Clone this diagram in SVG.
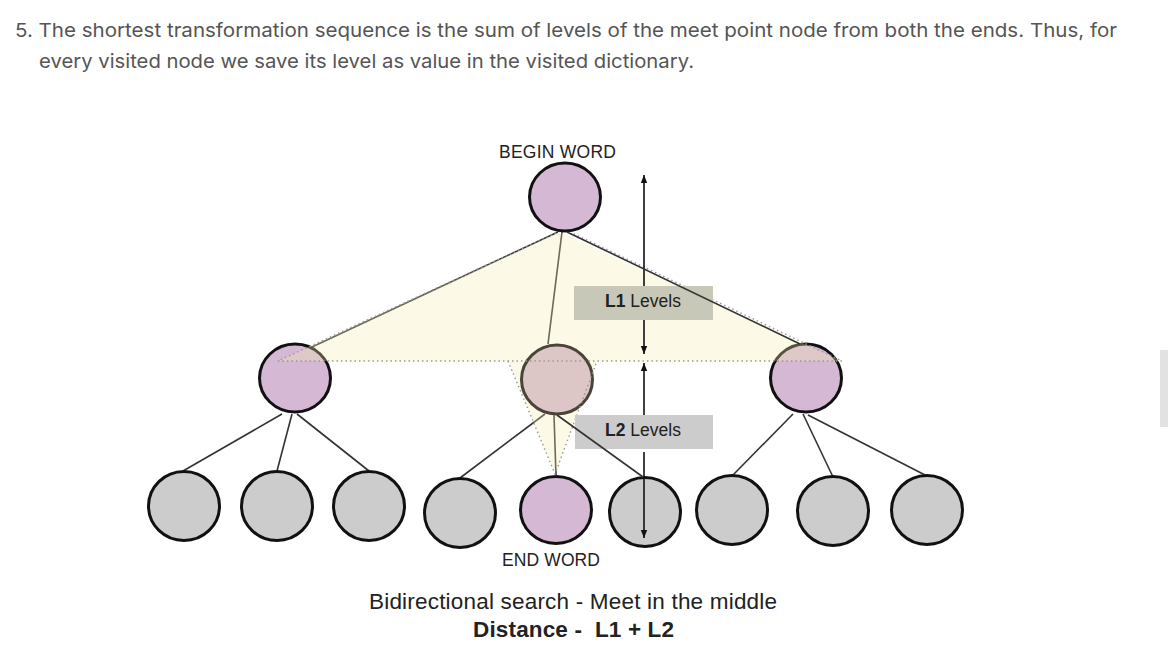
<svg xmlns="http://www.w3.org/2000/svg" width="1168" height="667" viewBox="0 0 1168 667">
<style>
.hd{font-family:Inter,"Liberation Sans",sans-serif;font-size:19px;fill:#555}
.lb{font-family:"Liberation Sans",Arial,sans-serif;fill:#222}
.e{stroke:#333;stroke-width:1.6;fill:none}
.n{stroke:#111;stroke-width:3}
.p{fill:#d4b8d4}
.g{fill:#cccccc}
.dot{stroke:#999;stroke-width:1.4;stroke-dasharray:1.5 3;fill:none}
.tri{fill:rgb(245,238,172);fill-opacity:0.3}
.ar{stroke:#111;stroke-width:1.6;fill:none}
</style>
<defs>
<marker id="ah" viewBox="0 0 10 10" refX="10" refY="5" markerWidth="9" markerHeight="8" markerUnits="userSpaceOnUse" orient="auto"><path d="M0,1 L10,5 L0,9 z" fill="#111"/></marker>
</defs>
<rect width="1168" height="667" fill="#fff"/>
<text class="hd" x="15" y="37" textLength="1102" lengthAdjust="spacingAndGlyphs">5. The shortest transformation sequence is the sum of levels of the meet point node from both the ends. Thus, for</text>
<text class="hd" x="39" y="68" textLength="655" lengthAdjust="spacingAndGlyphs">every visited node we save its level as value in the visited dictionary.</text>
<rect x="1160" y="350" width="8" height="77" fill="#e2e2e2"/>

<g id="connectors">
<line class="e" x1="558" y1="232" x2="312" y2="347"/>
<line class="e" x1="562" y1="232" x2="548" y2="344"/>
<line class="e" x1="282" y1="414" x2="183" y2="471"/>
<line class="e" x1="292" y1="414" x2="277" y2="471"/>
<line class="e" x1="297" y1="414" x2="369" y2="471"/>
<line class="e" x1="545" y1="414" x2="460" y2="478"/>
<line class="e" x1="554" y1="415" x2="556" y2="476"/>
<line class="e" x1="793" y1="414" x2="733" y2="475"/>
<line class="e" x1="803" y1="414" x2="833" y2="477"/>
<line class="e" x1="808" y1="415" x2="925" y2="475"/>
</g>

<g id="begin"><ellipse class="n p" cx="565" cy="197" rx="35.5" ry="34"/></g>
<g id="left"><ellipse class="n p" cx="295" cy="378" rx="35.5" ry="34"/></g>
<g id="right"><ellipse class="n p" cx="806" cy="378" rx="35.5" ry="34"/></g>
<g id="b1"><ellipse class="n g" cx="184" cy="506" rx="35.5" ry="34.5"/></g>
<g id="b2"><ellipse class="n g" cx="277" cy="506" rx="35.5" ry="34.5"/></g>
<g id="b3"><ellipse class="n g" cx="369" cy="506" rx="35.5" ry="34.5"/></g>
<g id="b4"><ellipse class="n g" cx="460" cy="513" rx="35.5" ry="34.5"/></g>
<g id="end"><ellipse class="n p" cx="556" cy="510" rx="35.5" ry="33.5"/></g>
<g id="b6"><ellipse class="n g" cx="645" cy="512" rx="35.5" ry="34.5"/></g>
<g id="b7"><ellipse class="n g" cx="732" cy="510" rx="35.5" ry="34.5"/></g>
<g id="b8"><ellipse class="n g" cx="833" cy="511" rx="35.5" ry="34.5"/></g>
<g id="b9"><ellipse class="n g" cx="927" cy="510" rx="35.5" ry="34.5"/></g>

<g id="regions">
<polygon class="tri" points="560,232 278,361 842,361"/>
<polygon class="tri" points="508,361 597,361 555,474"/>
</g>
<g id="meet"><ellipse cx="557" cy="379.5" rx="35.5" ry="34.5" fill="#dcc6c6" stroke="#4a4438" stroke-width="3"/></g>
<g id="regionedges">
<polyline class="dot" points="556,233 278,361 842,361 572,233"/>
<polyline class="dot" points="508,361 555,474 597,361"/>
</g>

<g id="labelboxes">
<rect x="574" y="286" width="139" height="34" fill="#c8c8b8"/>
<rect x="575" y="415" width="138" height="34" fill="#cccccc"/>
</g>

<g id="arrows">
<line class="ar" x1="644" y1="286" x2="644" y2="175" marker-end="url(#ah)"/>
<line class="ar" x1="644" y1="320" x2="644" y2="354" marker-end="url(#ah)"/>
<line class="ar" x1="644" y1="415" x2="644" y2="363" marker-end="url(#ah)"/>
<line class="ar" x1="644" y1="452" x2="644" y2="538" marker-end="url(#ah)"/>
</g>
<g id="connectors-over">
<line class="e" x1="567" y1="232" x2="800" y2="344"/>
<line class="e" x1="557" y1="415" x2="643" y2="477"/>
</g>

<text class="lb" x="605" y="307" font-size="17.5"><tspan font-weight="bold">L1</tspan> Levels</text>
<text class="lb" x="605" y="436" font-size="17.5"><tspan font-weight="bold">L2</tspan> Levels</text>
<text class="lb" x="557.5" y="158" font-size="17.5" text-anchor="middle" textLength="117">BEGIN WORD</text>
<text class="lb" x="551" y="566" font-size="17.5" text-anchor="middle" textLength="98">END WORD</text>
<text class="lb" x="573" y="609" font-size="22.5" text-anchor="middle" textLength="408">Bidirectional search - Meet in the middle</text>
<text class="lb" x="573.5" y="637" font-size="22.5" font-weight="bold" text-anchor="middle" textLength="201" xml:space="preserve">Distance -  L1 + L2</text>
</svg>
